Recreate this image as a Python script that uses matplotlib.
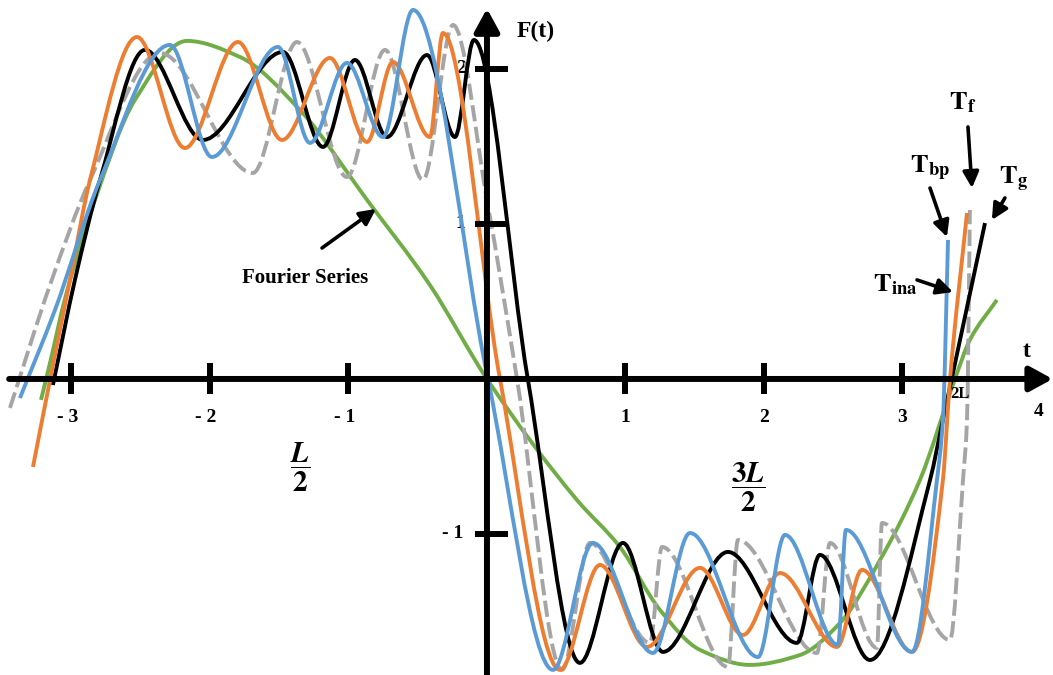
import numpy as np
import matplotlib
matplotlib.use("Agg")
import matplotlib.pyplot as plt
from matplotlib.path import Path
from matplotlib.patches import PathPatch

# ---------------- data ----------------
# Fourier series (green)
t_fs = [-3.22, -3.155, -3.05, -2.830, -2.542, -2.166, -1.783, -1.350, -0.866, -0.412, 0.0,
        0.650, 0.960, 1.249, 1.538, 1.899, 2.260, 2.549, 2.838, 3.126, 3.379, 3.487, 3.682]
F_fs = [-0.135, 0.103, 0.506, 1.155, 1.8, 2.181, 2.077, 1.735, 1.155, 0.606, 0.0,
        -0.781, -1.084, -1.490, -1.748, -1.845, -1.781, -1.574, -1.168, -0.652, 0.0, 0.252, 0.510]

# T_f (grey dashed)
t_tf = [-3.444, -3.155, -2.866, -2.361, -1.690, -1.372, -1.011, -0.736, -0.462, -0.245, 0.0,
        0.217, 0.542, 0.744, 1.177, 1.264, 1.740, 1.812, 2.383, 2.477, 2.816, 2.852, 3.343,
        3.437, 3.466, 3.487]
F_tf = [-0.187, 0.606, 1.284, 2.103, 1.329, 2.174, 1.303, 2.123, 1.284, 2.284, 1.155,
        0.0, -1.877, -1.058, -1.703, -1.084, -1.858, -1.039, -1.768, -1.058, -1.735, -0.929, -1.684,
        -0.652, -0.265, 1.09]

# T_g (black)
t_tg = [-3.134, -2.975, -2.794, -2.469, -2.051, -1.473, -1.184, -0.953, -0.722, -0.433, -0.231,
        -0.094, 0.296, 0.671, 0.982, 1.271, 1.740, 2.238, 2.404, 2.765, 3.199, 3.292, 3.596]
F_tg = [-0.039, 0.639, 1.284, 2.123, 1.542, 2.110, 1.497, 2.058, 1.561, 2.090, 1.561,
        2.187, -0.006, -1.832, -1.058, -1.761, -1.116, -1.703, -1.135, -1.813, -0.652, -0.265, 1.006]

# T_ina (orange)
t_ti = [-3.278, -3.155, -3.011, -2.866, -2.527, -2.181, -1.798, -1.480, -1.134, -0.866, -0.679,
        -0.412, -0.318, 0.094, 0.527, 0.816, 1.155, 1.538, 1.848, 2.116, 2.527, 2.708, 3.069,
        3.292, 3.343, 3.466]
F_ti = [-0.568, -0.006, 0.639, 1.284, 2.206, 1.490, 2.174, 1.542, 2.071, 1.529, 2.045,
        1.561, 2.232, 0.0, -1.877, -1.2, -1.729, -1.219, -1.652, -1.252, -1.729, -1.232, -1.761,
        -0.652, -0.006, 1.071]

# T_bp (blue)
t_tb = [-3.372, -3.119, -2.794, -2.289, -1.986, -1.509, -1.278, -1.011, -0.751, -0.534, 0.007,
        0.477, 0.765, 1.199, 1.466, 1.957, 2.152, 2.534, 2.592, 3.069, 3.249, 3.292, 3.329]
F_tb = [-0.123, 0.445, 1.284, 2.155, 1.432, 2.142, 1.523, 2.039, 1.561, 2.381, 0.0,
        -1.877, -1.058, -1.768, -0.994, -1.794, -1.006, -1.716, -0.974, -1.761, -0.652, -0.265, 0.897]

xticks = [-3, -2, -1, 1, 2, 3]
xtick_labels = ["- 3", "- 2", "- 1", "1", "2", "3"]
yticks = [2, 1, -1]
ytick_labels = ["2", "1", "- 1"]

# ---------------- helpers ----------------
def smooth_path(t, F):
    """Bezier path through the read points (monotone cubic tangents)."""
    x = np.asarray(t, float)
    y = np.asarray(F, float)
    n = len(x)
    h = np.diff(x)
    d = np.diff(y) / h
    m = np.zeros(n)
    m[0], m[-1] = d[0], d[-1]
    for k in range(1, n - 1):
        if d[k - 1] * d[k] <= 0:
            m[k] = 0.0
        else:
            w1 = 2 * h[k] + h[k - 1]
            w2 = h[k] + 2 * h[k - 1]
            m[k] = (w1 + w2) / (w1 / d[k - 1] + w2 / d[k])
    verts = [(x[0], y[0])]
    codes = [Path.MOVETO]
    for k in range(n - 1):
        hk = h[k]
        verts += [(x[k] + hk / 3, y[k] + m[k] * hk / 3),
                  (x[k + 1] - hk / 3, y[k + 1] - m[k + 1] * hk / 3),
                  (x[k + 1], y[k + 1])]
        codes += [Path.CURVE4] * 3
    return Path(verts, codes)

plt.rcParams["font.family"] = ["Liberation Serif", "DejaVu Serif"]
plt.rcParams["mathtext.fontset"] = "stix"

fig = plt.figure(figsize=(10.53, 6.75), dpi=100)
ax = fig.add_axes([0, 0, 1, 1])
ax.set_xlim(-3.516, 4.087)
ax.set_ylim(-1.910, 2.445)
ax.axis("off")

LW = 2.8
series = [
    (t_fs, F_fs, "#70AD47", "-", 2),
    (t_tf, F_tf, "#A5A5A5", (0, (4.2, 1.4)), 3),
    (t_tg, F_tg, "#000000", "-", 3.2),
    (t_ti, F_ti, "#ED7D31", "-", 3.4),
    (t_tb, F_tb, "#5B9BD5", "-", 3.6),
]
for t, F, c, ls, z in series:
    ax.add_patch(PathPatch(smooth_path(t, F), fill=False, edgecolor=c, lw=LW,
                           linestyle=ls, capstyle="butt", joinstyle="round", zorder=z))

# ---------------- axes with arrows ----------------
AX_LW = 4.3
arrow_kw = dict(arrowstyle="-|>,head_length=0.55,head_width=0.3", lw=AX_LW, color="black",
                shrinkA=0, shrinkB=0, mutation_scale=25)
ax.annotate("", xy=(4.085, 0), xytext=(-3.45, 0), arrowprops=arrow_kw, zorder=6)
ax.annotate("", xy=(0, 2.39), xytext=(0, -1.92), arrowprops=arrow_kw, zorder=6)

for v in xticks:
    ax.plot([v, v], [-0.1, 0.1], color="black", lw=AX_LW, solid_capstyle="butt", zorder=6)
for v in yticks:
    ax.plot([-0.087, 0.152], [v, v], color="black", lw=AX_LW, solid_capstyle="butt", zorder=6)

for v, s in zip(xticks, xtick_labels):
    ax.text(v - (0.03 if v < 0 else 0), -0.25, s, ha="center", va="center",
            fontsize=14, fontweight="bold", zorder=1)
ax.text(3.98, -0.21, "4", ha="center", va="center", fontsize=14, fontweight="bold", zorder=1)
for v, s in zip(yticks, ytick_labels):
    ax.text(-0.19 if v > 0 else -0.25, v, s, ha="center", va="center",
            fontsize=14, fontweight="bold", zorder=1)

ax.text(0.35, 2.24, "F(t)", ha="center", va="center", fontsize=17, fontweight="bold")
ax.text(3.90, 0.18, "t", ha="center", va="center", fontsize=17, fontweight="bold")
ax.text(3.415, -0.10, "2L", ha="center", va="center", fontsize=12, fontweight="bold", zorder=7)

ax.text(-1.35, -0.574, r"$\dfrac{\mathbfit{L}}{\mathbf{2}}$", ha="center", va="center", fontsize=21)
ax.text(1.884, -0.703, r"$\dfrac{\mathbf{3}\mathbfit{L}}{\mathbf{2}}$", ha="center", va="center", fontsize=21)

# ---------------- annotations ----------------
ann_kw = dict(arrowstyle="-|>,head_length=0.6,head_width=0.3", lw=2.6, color="black",
              shrinkA=0, shrinkB=0, mutation_scale=16)
ax.text(-1.314, 0.652, "Fourier Series", ha="center", va="center", fontsize=15, fontweight="bold")
ax.annotate("", xy=(-0.801, 1.097), xytext=(-1.191, 0.845), arrowprops=ann_kw, zorder=7)

ax.text(3.20, 1.36, r"$\mathbf{T}_{\mathbf{bp}}$", ha="center", va="center", fontsize=19)
ax.annotate("", xy=(3.321, 0.916), xytext=(3.199, 1.232), arrowprops=ann_kw, zorder=7)

ax.text(3.437, 1.78, r"$\mathbf{T}_{\mathbf{f}}$", ha="center", va="center", fontsize=19)
ax.annotate("", xy=(3.502, 1.232), xytext=(3.473, 1.626), arrowprops=ann_kw, zorder=7)

ax.text(3.80, 1.284, r"$\mathbf{T}_{\mathbf{g}}$", ha="center", va="center", fontsize=19)
ax.annotate("", xy=(3.646, 1.026), xytext=(3.740, 1.168), arrowprops=ann_kw, zorder=7)

ax.text(2.946, 0.606, r"$\mathbf{T}_{\mathbf{ina}}$", ha="center", va="center", fontsize=19)
ax.annotate("", xy=(3.365, 0.561), xytext=(3.105, 0.639), arrowprops=ann_kw, zorder=7)

fig.savefig("out.png", dpi=100)
